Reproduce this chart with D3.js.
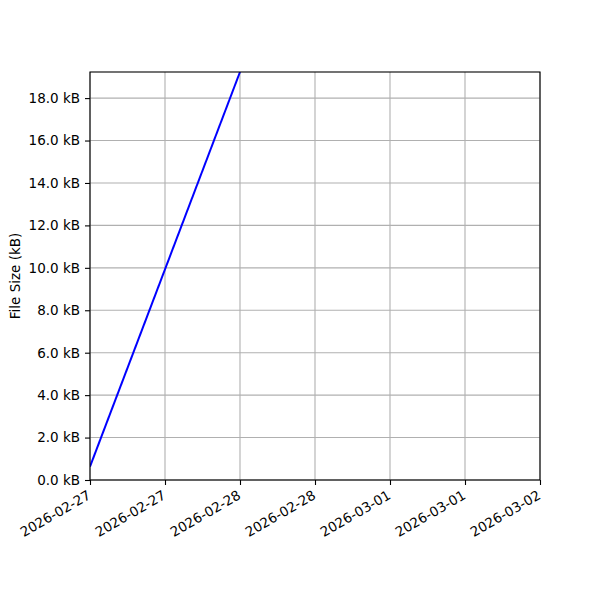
<!DOCTYPE html>
<html>
<head>
<meta charset="utf-8">
<script src="https://cdn.jsdelivr.net/npm/d3@7"></script>
<style>
  body { margin: 0; background: #fff; }
  svg { font-family: "DejaVu Sans", sans-serif; }
</style>
</head>
<body>
<div id="chart"></div>
<script>
// file size samples (kB)
const dates = ["2026-02-27T00:00:00", "2026-02-28T00:00:00"];
const sizes = [0.63, 19.23];
const xDomainDates = ["2026-02-27T00:00:00", "2026-03-02T00:00:00"];
const yMax = 19.23;
const yTicks = [0, 2, 4, 6, 8, 10, 12, 14, 16, 18];

const width = 600, height = 600;
const marginTop = 72, marginRight = 60, marginBottom = 120, marginLeft = 90;
const fontSize = 13.5;

const parse = d3.isoParse;
const data = dates.map((d, i) => ({date: parse(d), size: sizes[i]}));

const x = d3.scaleTime()
    .domain(xDomainDates.map(parse))
    .range([marginLeft, width - marginRight]);
const y = d3.scaleLinear()
    .domain([0, yMax])
    .range([height - marginBottom, marginTop]);

const svg = d3.select("#chart").append("svg")
    .attr("width", width)
    .attr("height", height)
    .attr("viewBox", [0, 0, width, height]);

const xTicks = d3.timeHour.every(12).range(x.domain()[0], d3.timeHour.offset(x.domain()[1], 1));
const fmt = d3.timeFormat("%Y-%m-%d");

// grid
svg.append("g")
    .attr("stroke", "#b0b0b0")
    .attr("stroke-width", 1.1)
  .call(g => g.selectAll("line.v").data(xTicks).join("line")
      .attr("x1", d => x(d)).attr("x2", d => x(d))
      .attr("y1", marginTop).attr("y2", height - marginBottom))
  .call(g => g.selectAll("line.h").data(yTicks).join("line")
      .attr("x1", marginLeft).attr("x2", width - marginRight)
      .attr("y1", d => y(d)).attr("y2", d => y(d)));

svg.append("clipPath").attr("id", "clip")
  .append("rect")
    .attr("x", marginLeft).attr("y", marginTop)
    .attr("width", width - marginLeft - marginRight)
    .attr("height", height - marginTop - marginBottom);

const line = d3.line()
    .x(d => x(d.date))
    .y(d => y(d.size));

svg.append("path")
    .datum(data)
    .attr("clip-path", "url(#clip)")
    .attr("fill", "none")
    .attr("stroke", "#0000ff")
    .attr("stroke-width", 2)
    .attr("d", line);

// y axis
const yAxis = d3.axisLeft(y)
    .tickValues(yTicks)
    .tickSize(5)
    .tickPadding(5)
    .tickFormat(d => d3.format(".1f")(d) + " kB");
svg.append("g")
    .attr("transform", `translate(${marginLeft},0)`)
    .call(yAxis)
    .call(g => g.select(".domain").remove())
    .call(g => g.selectAll("text").attr("font-size", fontSize).attr("fill", "#000")
        .attr("font-family", "DejaVu Sans"))
    .call(g => g.selectAll(".tick line").attr("stroke", "#000").attr("stroke-width", 1.1));

// x axis
const xAxis = d3.axisBottom(x)
    .tickValues(xTicks)
    .tickSize(5)
    .tickFormat(fmt);
svg.append("g")
    .attr("transform", `translate(0,${height - marginBottom})`)
    .call(xAxis)
    .call(g => g.select(".domain").remove())
    .call(g => g.selectAll(".tick line").attr("stroke", "#000").attr("stroke-width", 1.1))
    .call(g => g.selectAll("text")
        .attr("font-size", fontSize)
        .attr("font-family", "DejaVu Sans")
        .attr("fill", "#000")
        .attr("text-anchor", "end")
        .attr("dy", null)
        .attr("y", null)
        .attr("dominant-baseline", "hanging")
        .attr("transform", "translate(-4,9) rotate(-30)"));

// frame
svg.append("rect")
    .attr("x", marginLeft).attr("y", marginTop)
    .attr("width", width - marginLeft - marginRight)
    .attr("height", height - marginTop - marginBottom)
    .attr("fill", "none")
    .attr("stroke", "#000")
    .attr("stroke-width", 1.1);

svg.append("text")
    .attr("transform", `translate(20,${(marginTop + height - marginBottom) / 2}) rotate(-90)`)
    .attr("text-anchor", "middle")
    .attr("font-size", fontSize)
    .attr("fill", "#000")
    .text("File Size (kB)");
</script>
</body>
</html>
